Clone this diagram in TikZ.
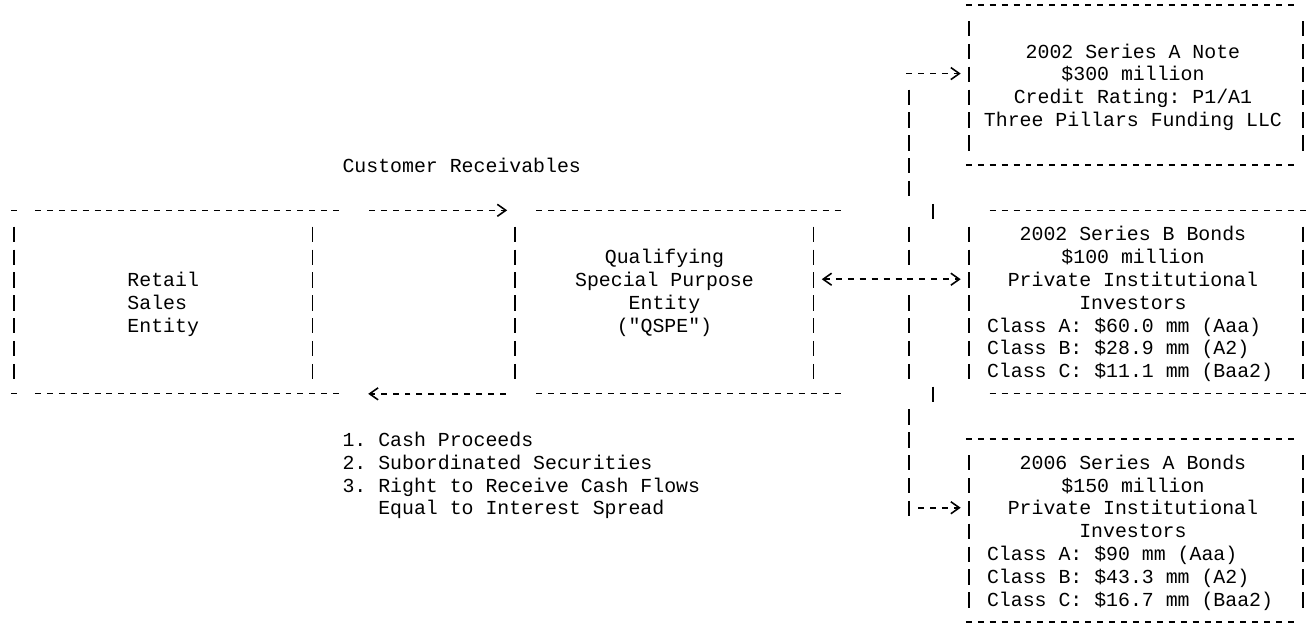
\documentclass[tikz,border=0pt]{standalone}
\usepackage{fontspec}
\setmonofont{Liberation Mono}
\usetikzlibrary{arrows.meta,calc,fit}

\begin{document}
\begin{tikzpicture}[x=0.2387cm, y=-0.457cm, font=\ttfamily\fontsize{11.3pt}{12.96pt}\selectfont]
\tikzset{dashline/.style={line width=0.9pt, dash pattern=on 0.1194cm off 0.1193cm},
  barline/.style={line width=0.9pt, dash pattern=on 0.3062cm off 0.1508cm},
  flow/.style={dashline, -{Straight Barb[length=1.7mm, width=2.4mm]}},
  duo/.style={dashline, {Straight Barb[length=1.7mm, width=2.4mm]}-{Straight Barb[length=1.7mm, width=2.4mm]}},
  boxarea/.style={inner sep=0pt},
  txt/.style={inner sep=0pt, anchor=base, align=center},
  txtl/.style={inner sep=0pt, anchor=base west, align=left}}
\useasboundingbox (-1.173,-0.219) rectangle (108.67,27.18);
% box areas
\node[boxarea, fit={(0,9) (25,17)}] (retail) {};
\node[boxarea, fit={(42,9) (67,17)}] (qspe) {};
\node[boxarea, fit={(80,0) (108,7)}] (noteA) {};
\node[boxarea, fit={(80,9) (108,17)}] (bondsB) {};
\node[boxarea, fit={(80,19) (108,27)}] (bonds06) {};
% box texts (base = last line)
\node[txt, align=left] (retailtxt) at (12.5,14.31) {Retail\\Sales\\Entity};
\node[txt] (qspetxt) at (54.5,14.31) {Qualifying\\Special Purpose\\Entity\\("QSPE")};
\node[txt] (noteAtxt) at (93.75,5.31) {2002 Series A Note\\\$300 million\\Credit Rating: P1/A1\\Three Pillars Funding LLC};
\node[txt] (bondsBtxt) at (93.75,13.31) {2002 Series B Bonds\\\$100 million\\Private Institutional\\Investors};
\node[txtl] (bondsBcls) at (81.5,16.31) {Class A: \$60.0 mm (Aaa)\\Class B: \$28.9 mm (A2)\\Class C: \$11.1 mm (Baa2)};
\node[txt] (bonds06txt) at (93.75,23.31) {2006 Series A Bonds\\\$150 million\\Private Institutional\\Investors};
\node[txtl] (bonds06cls) at (81.5,26.31) {Class A: \$90 mm (Aaa)\\Class B: \$43.3 mm (A2)\\Class C: \$16.7 mm (Baa2)};
% labels
\node[txtl] (custrec) at (27.5,7.31) {Customer Receivables};
\node[txtl] (proceeds) at (27.5,22.31) {1. Cash Proceeds\\2. Subordinated Securities\\3. Right to Receive Cash Flows\\\phantom{3. }Equal to Interest Spread};
% borders
\draw[dashline] (-0.25,9) -- (0.25,9);
\draw[dashline] (1.75,9) -- (27.25,9);
\draw[dashline] (-0.25,17) -- (0.25,17);
\draw[dashline] (1.75,17) -- (27.25,17);
\draw[barline] (0,9.7) -- (0,16.37);
\draw[barline] (25,9.7) -- (25,16.37);
\draw[dashline] (43.75,9) -- (69.25,9);
\draw[dashline] (43.75,17) -- (69.25,17);
\draw[barline] (42,9.7) -- (42,16.37);
\draw[barline] (67,9.7) -- (67,16.37);
\draw[dashline] (79.75,0) -- (107.25,0);
\draw[dashline] (79.75,7) -- (107.25,7);
\draw[barline] (80,0.7) -- (80,6.37);
\draw[barline] (108,0.7) -- (108,6.37);
\draw[dashline] (81.75,9) -- (108.25,9);
\draw[dashline] (81.75,17) -- (108.25,17);
\draw[barline] (80,9.7) -- (80,16.37);
\draw[barline] (108,9.7) -- (108,16.37);
\draw[dashline] (79.75,19) -- (107.25,19);
\draw[dashline] (79.75,27) -- (107.25,27);
\draw[barline] (80,19.7) -- (80,26.37);
\draw[barline] (108,19.7) -- (108,26.37);
% connectors
\coordinate (bus) at (75,12);
\coordinate (toA) at (74.75,3);
\coordinate (to06) at (75.75,22);
\draw[flow] ($(retail.north east)+(4.75,0)$) -- ($(qspe.north west)+(-0.65,0)$);
\draw[flow] ($(qspe.south west)+(-0.75,0)$) -- ($(retail.south east)+(4.65,0)$);
\draw[duo] ($(qspe.east |- bus)+(0.65,0)$) -- ($(bondsB.west |- bus)+(-0.65,0)$);
\draw[flow] (toA) -- ($(noteA.west |- toA)+(-0.65,0)$);
\draw[flow] (to06) -- ($(bonds06.west |- to06)+(-0.65,0)$);
\draw[barline] (75,3.7) -- (75,8.37);
\draw[barline] (77,8.7) -- (77,9.37);
\draw[barline] (75,9.7) -- (75,11.37);
\draw[barline] (75,12.7) -- (75,16.37);
\draw[barline] (77,16.7) -- (77,17.37);
\draw[barline] (75,17.7) -- (75,22.37);
\end{tikzpicture}
\end{document}
